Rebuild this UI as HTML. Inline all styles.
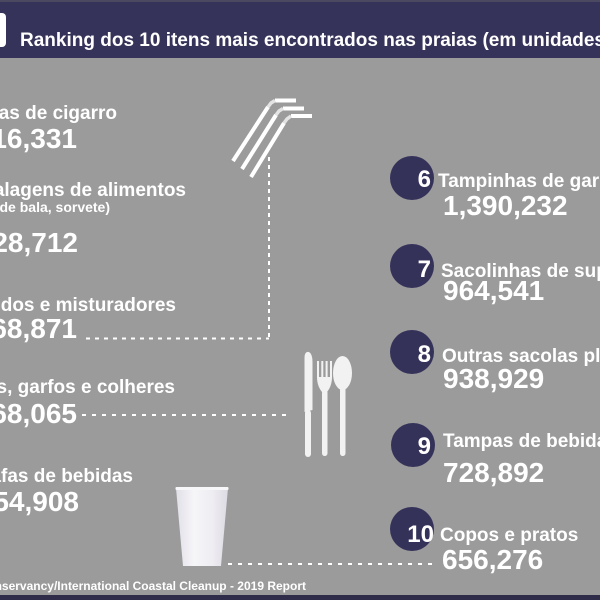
<!DOCTYPE html>
<html>
<head>
<meta charset="utf-8">
<style>
html,body{margin:0;padding:0;background:#9b9b9b;}
svg{display:block;}
text{font-family:"Liberation Sans",Arial,sans-serif;font-weight:bold;fill:#ffffff;}
</style>
</head>
<body>
<svg width="600" height="600" viewBox="0 0 600 600" xmlns="http://www.w3.org/2000/svg">
  <defs>
    <linearGradient id="cup" x1="0" y1="0" x2="1" y2="0">
      <stop offset="0" stop-color="#e2e0e8"/>
      <stop offset="0.35" stop-color="#f6f5f8"/>
      <stop offset="0.7" stop-color="#eeedf2"/>
      <stop offset="1" stop-color="#dddbe3"/>
    </linearGradient>
  </defs>
  <rect x="0" y="0" width="600" height="600" fill="#9b9b9b"/>
  <!-- header -->
  <rect x="0" y="0" width="600" height="58" fill="#36335a"/>
  <rect x="0" y="0" width="600" height="2" fill="#4b4962"/>
  <rect x="-6" y="13" width="12" height="34" rx="4" fill="#ffffff"/>
  <text x="20" y="46" font-size="19">Ranking dos 10 itens mais encontrados nas praias (em unidades)</text>

  <!-- bottom bar -->
  <rect x="0" y="595" width="600" height="5" fill="#2f2c4a"/>

  <!-- left items -->
  <g text-anchor="end">
    <text x="117" y="119" font-size="19">Bitucas de cigarro</text>
    <text x="77" y="148" font-size="28">5,716,331</text>

    <text x="186" y="196" font-size="19">Embalagens de alimentos</text>
    <text x="110" y="212" font-size="14">(papel de bala, sorvete)</text>
    <text x="78" y="252" font-size="28">3,728,712</text>

    <text x="176" y="311" font-size="19">Canudos e misturadores</text>
    <text x="77" y="338" font-size="28">3,668,871</text>

    <text x="175" y="393" font-size="19">Facas, garfos e colheres</text>
    <text x="77" y="423" font-size="28">2,168,065</text>

    <text x="133" y="482" font-size="19">Garrafas de bebidas</text>
    <text x="79" y="511" font-size="28">1,554,908</text>

    <text x="306" y="590" font-size="12">Fonte: Ocean Conservancy/International Coastal Cleanup - 2019 Report</text>
  </g>

  <!-- dotted connectors -->
  <g stroke="#ffffff" stroke-width="2" fill="none">
    <line x1="86" y1="338.5" x2="269" y2="338.5" stroke-dasharray="4 5"/>
    <line x1="269" y1="157" x2="269" y2="339" stroke-dasharray="4 4"/>
    <line x1="82" y1="415" x2="289" y2="415" stroke-dasharray="4 6"/>
    <line x1="228" y1="564" x2="433" y2="564" stroke-dasharray="4 6"/>
  </g>

  <!-- straws -->
  <g stroke="#ffffff" stroke-width="4" fill="none" stroke-linejoin="round">
    <polyline points="233,161 268,107"/>
    <polyline points="275,100.5 296,100.5"/>
    <polyline points="242,169 276,115"/>
    <polyline points="283,108.5 304,108.5"/>
    <polyline points="251,177 284,123"/>
    <polyline points="291,116 312,116"/>
  </g>
  <g stroke="#e4e4e4" stroke-width="3.5" fill="none">
    <polyline points="268,107 271,103 275,100.5"/>
    <polyline points="276,115 279,111 283,108.5"/>
    <polyline points="284,123 287,119 291,116"/>
  </g>

  <!-- cutlery -->
  <g fill="#f2f2f2">
    <!-- knife -->
    <path d="M304.5,412 L304.5,358 Q304.5,351 309,352 Q312.5,354 312.5,362 L312.5,410 Z"/>
    <rect x="305" y="410" width="6" height="47" rx="3"/>
    <!-- fork -->
    <rect x="317" y="361" width="2" height="17"/>
    <rect x="321.3" y="361" width="2" height="17"/>
    <rect x="325.6" y="361" width="2" height="17"/>
    <rect x="330" y="361" width="2" height="17"/>
    <path d="M317,377 L332,377 Q332,386 327,392 L322,392 Q317,386 317,377 Z"/>
    <rect x="322" y="390" width="5.5" height="66" rx="2.7"/>
    <!-- spoon -->
    <ellipse cx="342.5" cy="373" rx="9.5" ry="17"/>
    <rect x="340" y="385" width="5.5" height="71" rx="2.7"/>
  </g>

  <!-- cup -->
  <path d="M176,488 L228,488 L221,566 L183,566 Z" fill="url(#cup)"/>
  <rect x="175.5" y="487" width="53" height="3" rx="1" fill="#f7f7f9"/>

  <!-- right circles -->
  <g fill="#35325a">
    <circle cx="412" cy="178" r="22"/>
    <circle cx="412" cy="266" r="22"/>
    <circle cx="412" cy="352" r="22"/>
    <circle cx="413" cy="445" r="22"/>
    <circle cx="412" cy="529" r="22"/>
  </g>
  <g text-anchor="end">
    <text x="431" y="187" font-size="24">6</text>
    <text x="431" y="277" font-size="24">7</text>
    <text x="431" y="362" font-size="24">8</text>
    <text x="431" y="454" font-size="24">9</text>
    <text x="434" y="542" font-size="24">10</text>
  </g>
  <g>
    <text x="438" y="187" font-size="19">Tampinhas de garrafa</text>
    <text x="443" y="215" font-size="28">1,390,232</text>

    <text x="441" y="277" font-size="19">Sacolinhas de supermercado</text>
    <text x="443" y="300" font-size="28">964,541</text>

    <text x="442" y="362" font-size="19">Outras sacolas plásticas</text>
    <text x="443" y="388" font-size="28">938,929</text>

    <text x="443" y="447" font-size="19">Tampas de bebidas</text>
    <text x="443" y="482" font-size="28">728,892</text>

    <text x="440" y="541" font-size="19">Copos e pratos</text>
    <text x="442" y="569" font-size="28">656,276</text>
  </g>
</svg>
</body>
</html>
